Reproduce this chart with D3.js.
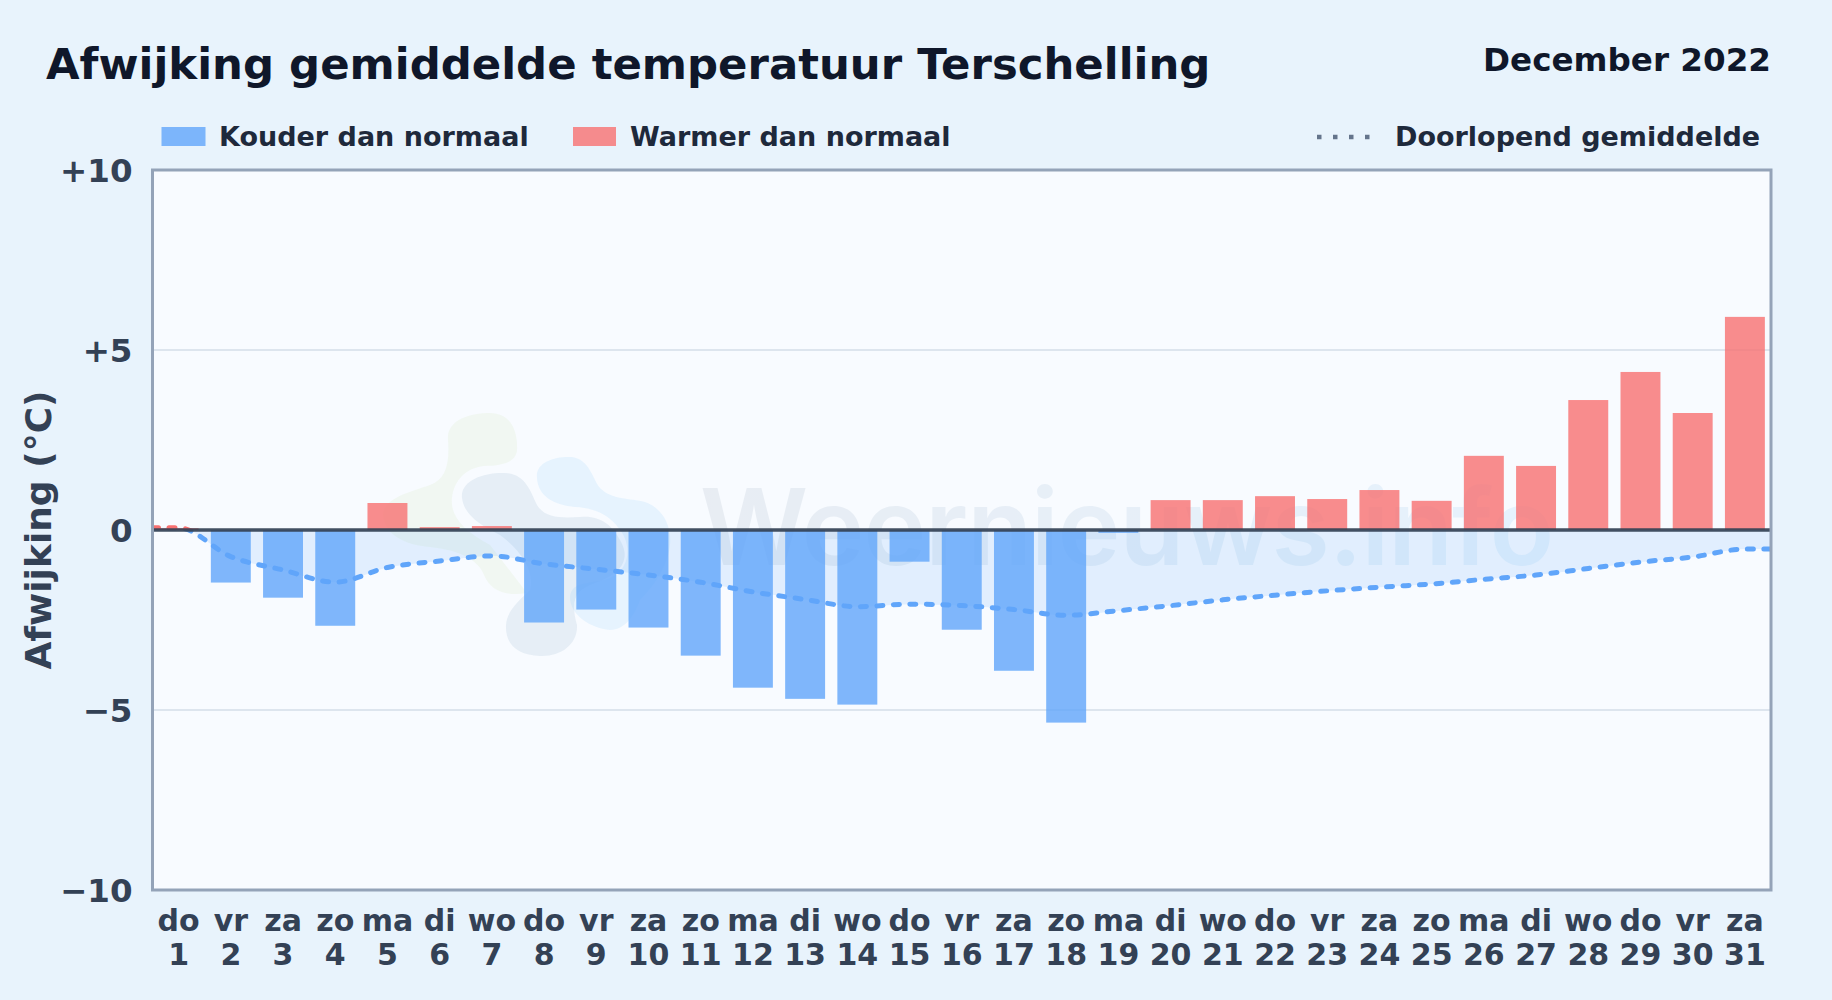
<!DOCTYPE html>
<html>
<head>
<meta charset="utf-8">
<title>Afwijking gemiddelde temperatuur Terschelling</title>
<script src="https://cdn.jsdelivr.net/npm/d3@7"></script>
<style>
  html, body { margin: 0; padding: 0; background: #e8f3fc; }
  svg { display: block; }
  text { font-family: "DejaVu Sans", sans-serif; font-weight: bold; }
</style>
</head>
<body>
<div class="chart"></div>
<script>
const days = d3.range(1, 32)
const dayNames = ['do','vr','za','zo','ma','di','wo','do','vr','za','zo','ma','di','wo','do','vr','za','zo','ma','di','wo','do','vr','za','zo','ma','di','wo','do','vr','za']
const deviation = [0.05,-1.46,-1.88,-2.66,0.75,0.08,0.11,-2.57,-2.21,-2.71,-3.49,-4.38,-4.69,-4.85,-0.88,-2.77,-3.91,-5.35,-0.08,0.83,0.83,0.94,0.86,1.11,0.81,2.06,1.78,3.61,4.39,3.25,5.92]
const runningMean = [0.06,-0.74,-1.11,-1.45,-1.04,-0.86,-0.72,-0.94,-1.09,-1.25,-1.45,-1.72,-1.93,-2.13,-2.06,-2.10,-2.21,-2.37,-2.24,-2.10,-1.94,-1.81,-1.69,-1.59,-1.50,-1.37,-1.25,-1.07,-0.89,-0.75,-0.53]
const yTicks = [-10,-5,0,5,10]
const yTickLabels = ['−10','−5','0','+5','+10']

const w = 1832, h = 1000
const mLeft = 152.5, mRight = 1771, mTop = 170, mBottom = 890

const blue = '#60a5fa', red = '#f87171'

const svg = d3.select('.chart').append('svg').attr('width', w).attr('height', h)

const x = d3.scaleBand().domain(days).range([mLeft, mRight]).paddingInner(0.235).paddingOuter(0.1175)
const y = d3.scaleLinear().domain([-10, 10]).range([mBottom, mTop])

const defs = svg.append('defs')
const wm = defs.append('linearGradient').attr('id', 'wmGrad')
wm.append('stop').attr('offset', '0%').attr('stop-color', '#475f80')
wm.append('stop').attr('offset', '100%').attr('stop-color', '#2f9bf0')
defs.append('clipPath').attr('id', 'above').append('rect')
  .attr('x', mLeft).attr('y', mTop).attr('width', mRight - mLeft).attr('height', y(0) - mTop)
defs.append('clipPath').attr('id', 'below').append('rect')
  .attr('x', mLeft).attr('y', y(0)).attr('width', mRight - mLeft).attr('height', mBottom - y(0))

// plot background
svg.append('rect')
  .attr('x', mLeft).attr('y', mTop)
  .attr('width', mRight - mLeft).attr('height', mBottom - mTop)
  .attr('fill', '#f8fbff')

// watermark logo + name
const logo = svg.append('g')
logo.append('path')
  .attr('fill', '#cfe8b0').attr('opacity', 0.17)
  .attr('d', 'M448 440C446 420 470 413 490 413C510 413 518 430 517 450C516 464 498 466 484 466C466 468 454 480 452 498C450 515 462 530 490 545L527 593C505 597 490 590 484 575C478 560 460 550 430 547C405 545 385 535 383 515C384 498 410 492 430 485C445 480 450 465 448 440Z')
logo.append('path')
  .attr('fill', '#5f86ad').attr('opacity', 0.11)
  .attr('d', 'M462 498C460 480 485 472 505 473C525 474 530 490 537 505C545 518 560 518 580 517C600 515 612 525 620 540C632 560 620 575 595 583C575 590 570 600 577 625C578 645 560 657 540 656C518 655 505 645 506 625C507 610 520 600 530 590C535 570 520 550 500 535C480 525 464 515 462 498Z')
logo.append('path')
  .attr('fill', '#6fbcf5').attr('opacity', 0.12)
  .attr('d', 'M537 478C535 462 555 456 572 457C590 460 592 478 600 488C612 500 630 498 645 502C662 508 672 525 670 545C668 565 655 585 640 600C635 615 625 630 610 630C590 628 570 615 570 597C572 580 590 585 610 578C630 570 632 545 620 530C610 515 595 508 575 507C555 505 538 497 537 478Z')
svg.append('text')
  .attr('x', 700).attr('y', 565)
  .attr('fill', 'url(#wmGrad)').attr('opacity', 0.085)
  .style('font-family', 'Inter, sans-serif')
  .style('font-weight', 600)
  .style('font-size', '106px')
  .style('letter-spacing', '-1px')
  .text('Weernieuws.info')

// grid
svg.append('g')
  .attr('transform', `translate(${mLeft},0)`)
  .call(d3.axisLeft(y).offset(0).tickValues([-5, 5]).tickSize(-(mRight - mLeft)).tickFormat(''))
  .call(g => g.select('.domain').remove())
  .selectAll('line').attr('stroke', '#dde5ee').attr('stroke-width', 2)

// running mean area + line, stretched out to the plot edges
const meanPoints = days.map((d, i) => [x(d) + x.bandwidth() / 2, runningMean[i]])
meanPoints.unshift([mLeft, runningMean[0]])
meanPoints.push([mRight, runningMean[30]])

const area = d3.area().curve(d3.curveMonotoneX)
  .x(d => d[0]).y0(y(0)).y1(d => y(d[1]))
svg.append('path').datum(meanPoints)
  .attr('d', area).attr('fill', blue).attr('fill-opacity', 0.15)

// bars
svg.selectAll('.bar')
  .data(days)
  .enter()
  .append('rect')
  .attr('class', 'bar')
  .attr('x', d => x(d))
  .attr('y', (d, i) => y(Math.max(0, deviation[i])))
  .attr('width', x.bandwidth())
  .attr('height', (d, i) => Math.abs(y(deviation[i]) - y(0)))
  .attr('fill', (d, i) => deviation[i] < 0 ? blue : red)
  .attr('fill-opacity', 0.8)

const line = d3.line().curve(d3.curveMonotoneX)
  .x(d => d[0]).y(d => y(d[1]))
const meanLine = (color, clip) => svg.append('path').datum(meanPoints)
  .attr('d', line)
  .attr('fill', 'none')
  .attr('stroke', color)
  .attr('stroke-width', 5)
  .attr('stroke-dasharray', '6 10.5')
  .attr('stroke-linecap', 'round')
  .attr('clip-path', `url(#${clip})`)
meanLine(blue, 'below')
meanLine(red, 'above')

// zero line
svg.append('line')
  .attr('x1', mLeft).attr('x2', mRight)
  .attr('y1', y(0)).attr('y2', y(0))
  .attr('stroke', '#334155').attr('stroke-width', 3.7).attr('stroke-opacity', 0.92)

// border
svg.append('rect')
  .attr('x', mLeft).attr('y', mTop)
  .attr('width', mRight - mLeft).attr('height', mBottom - mTop)
  .attr('fill', 'none').attr('stroke', '#94a3b8').attr('stroke-width', 3)

// axes
svg.append('g')
  .attr('transform', `translate(${mLeft},0)`)
  .call(d3.axisLeft(y).offset(0).tickValues(yTicks).tickSize(0).tickPadding(20)
    .tickFormat((d, i) => yTickLabels[i]))
  .call(g => g.select('.domain').remove())
  .selectAll('text')
  .attr('dy', '0.38em')
  .attr('fill', '#334155')
  .style('font-size', '32.5px')
  .style('font-family', '"DejaVu Sans", sans-serif')
  .style('font-weight', 'bold')

const xAxis = svg.append('g')
  .attr('transform', `translate(0,${mBottom})`)
  .call(d3.axisBottom(x).offset(0).tickSize(0).tickFormat(''))
  .call(g => g.select('.domain').remove())
xAxis.selectAll('.tick text').remove()
xAxis.selectAll('.tick').each(function (d, i) {
  const tick = d3.select(this)
  tick.append('text').attr('y', 41).text(dayNames[i])
  tick.append('text').attr('y', 75).text(d)
})
xAxis.selectAll('text')
  .attr('text-anchor', 'middle')
  .attr('fill', '#334155')
  .style('font-size', '30px')
  .style('font-family', '"DejaVu Sans", sans-serif')
  .style('font-weight', 'bold')

svg.append('text')
  .attr('transform', `translate(38.5,${y(0)}) rotate(-90)`)
  .attr('text-anchor', 'middle')
  .attr('dominant-baseline', 'central')
  .attr('fill', '#334155')
  .style('font-size', '36px')
  .text('Afwijking (°C)')

// title
svg.append('text')
  .attr('x', 46).attr('y', 79)
  .attr('fill', '#0f172a')
  .style('font-size', '43.4px')
  .text('Afwijking gemiddelde temperatuur Terschelling')
svg.append('text')
  .attr('x', 1771).attr('y', 71)
  .attr('text-anchor', 'end')
  .attr('fill', '#0f172a')
  .style('font-size', '32.6px')
  .text('December 2022')

// legend
const legend = svg.append('g').attr('fill', '#1e293b').style('font-size', '27px')
legend.append('rect').attr('x', 161.5).attr('y', 127).attr('width', 44).attr('height', 19)
  .attr('fill', blue).attr('fill-opacity', 0.8)
legend.append('text').attr('x', 219).attr('y', 145.5).text('Kouder dan normaal')
legend.append('rect').attr('x', 573).attr('y', 127).attr('width', 43).attr('height', 19)
  .attr('fill', red).attr('fill-opacity', 0.8)
legend.append('text').attr('x', 630).attr('y', 145.5).text('Warmer dan normaal')
legend.append('line')
  .attr('x1', 1317).attr('x2', 1374).attr('y1', 137).attr('y2', 137)
  .attr('stroke', '#64748b').attr('stroke-width', 4.5).attr('stroke-dasharray', '4.5 11.5')
legend.append('text').attr('x', 1395).attr('y', 145.5).text('Doorlopend gemiddelde')
</script>
</body>
</html>
